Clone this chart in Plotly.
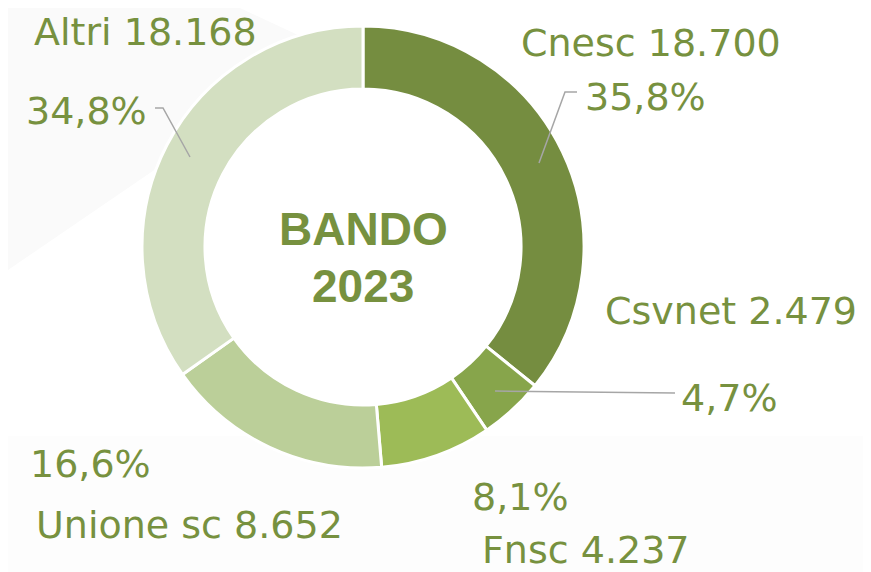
import plotly.graph_objects as go

# page body has an 8px default margin, so the figure is drawn 8px in
OFF = 8
W, H = 871 - OFF, 572 - OFF

CATEGORIES = ["Cnesc", "Csvnet", "Fnsc", "Unione sc", "Altri"]
VALUES = [18700, 2479, 4237, 8652, 18168]
COLORS = ["#758d40", "#87a54b", "#9dbb57", "#bbcf99", "#d3dfc1"]
CENTER_TEXT = ["BANDO", "2023"]

TEXT_COL = "#77913f"
LINE_COL = "#a6a6a6"
FONT = "DejaVu Sans"


def px(x, y):
    """screen pixel (from top-left of window) -> paper coords"""
    return (x - OFF) / W, 1 - (y - OFF) / H


def fmt_int(v):
    return f"{v:,}".replace(",", ".")


def fmt_pct(v, total):
    return f"{100 * v / total:.1f}%".replace(".", ",")


total = sum(VALUES)

x0, y1 = px(142, 26)
x1, y0 = px(584, 468)
fig = go.Figure(go.Pie(
    labels=CATEGORIES,
    values=VALUES,
    hole=0.715,
    sort=False,
    direction="clockwise",
    rotation=0,
    marker=dict(colors=COLORS, line=dict(color="#ffffff", width=3)),
    textinfo="none",
    hoverinfo="label+value+percent",
    domain=dict(x=[x0, x1], y=[y0, y1]),
    showlegend=False,
))

# label placement (pixel centres): name line, percent line
name_pos = {
    "Cnesc": (651, 43),
    "Csvnet": (731, 311),
    "Fnsc": (586, 550),
    "Unione sc": (189, 525),
    "Altri": (145, 32),
}
pct_pos = {
    "Cnesc": (645, 97),
    "Csvnet": (729, 398),
    "Fnsc": (520, 497),
    "Unione sc": (90, 464),
    "Altri": (86, 111),
}
leaders = {
    "Cnesc": [(577, 92), (565, 92), (539, 163)],
    "Csvnet": [(675, 393), (495, 391)],
    "Altri": [(155, 108), (163, 108), (190, 157)],
}

annotations = []
for cat, val in zip(CATEGORIES, VALUES):
    x, y = px(*name_pos[cat])
    annotations.append(dict(
        x=x, y=y, xref="paper", yref="paper", showarrow=False,
        text=f"{cat} {fmt_int(val)}", xanchor="center", yanchor="middle",
        font=dict(family=FONT, size=38, color=TEXT_COL),
    ))
    x, y = px(*pct_pos[cat])
    annotations.append(dict(
        x=x, y=y, xref="paper", yref="paper", showarrow=False,
        text=fmt_pct(val, total), xanchor="center", yanchor="middle",
        font=dict(family=FONT, size=38, color=TEXT_COL),
    ))

for txt, yy in zip(CENTER_TEXT, [229, 286]):
    x, y = px(363, yy)
    annotations.append(dict(
        x=x, y=y, xref="paper", yref="paper", showarrow=False,
        text=f"<b>{txt}</b>", xanchor="center", yanchor="middle",
        font=dict(family="Liberation Sans", size=46, color=TEXT_COL),
    ))


def path_of(pts, close=False):
    s = ""
    for i, p in enumerate(pts):
        x, y = px(*p)
        s += ("M" if i == 0 else "L") + f"{x},{y} "
    return s.strip() + (" Z" if close else "")


shapes = [
    # very faint background panels
    dict(type="path", path=path_of([(8, 8), (240, 8), (330, 50), (8, 270)], close=True),
         xref="paper", yref="paper", fillcolor="#fafafa", line=dict(width=0), layer="below"),
    dict(type="path", path=path_of([(8, 436), (871, 436), (871, 572), (8, 572)], close=True),
         xref="paper", yref="paper", fillcolor="#fdfdfd", line=dict(width=0), layer="below"),
]
for pts in leaders.values():
    shapes.append(dict(type="path", path=path_of(pts), xref="paper", yref="paper",
                       line=dict(color=LINE_COL, width=1.5)))

fig.update_layout(
    width=W, height=H,
    margin=dict(l=0, r=0, t=0, b=0),
    paper_bgcolor="#ffffff",
    plot_bgcolor="#ffffff",
    annotations=annotations,
    shapes=shapes,
)

fig.write_html("out.html")
